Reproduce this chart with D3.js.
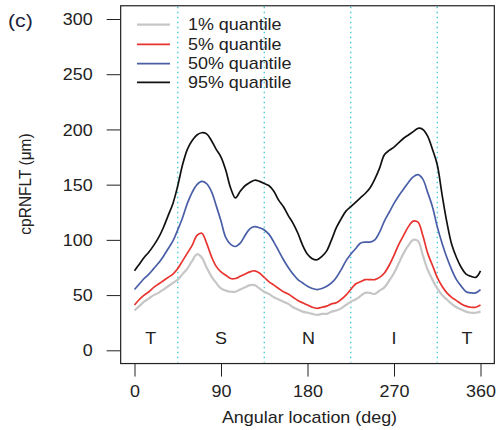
<!DOCTYPE html>
<html><head><meta charset="utf-8">
<script src="https://cdn.jsdelivr.net/npm/d3@7"></script>
<style>html,body{margin:0;padding:0;background:#fff;}svg{display:block;}</style>
</head><body>
<svg id="chart" width="499" height="430"></svg>
<script>
const angles = d3.range(0, 361, 5);
const q95 = [72,78,84,89,95,102,111,122,133,149,168,182,190,195,197,196,190,182,175,163,147,138,144,149,152,154,153,151,149,144,136,130,122,115,106,95,87,83,82,85,90,100,111,119,126,130,134,138,142,147,155,165,177,181,184,188,192,195,198,201,200,194,182,168,141,116,96,84,75,69,67,66,72];
const q50 = [55,60,65,69,74,79,85,92,99,109,120,133,143,150,153,151,144,131,117,102,96,94,97,104,110,112,111,109,105,98,90,82,75,69,64,61,58,56,55,56,58,61,66,73,81,87,92,97,98,98,100,107,117,125,133,140,146,152,157,159,155,143,130,112,97,84,73,64,58,53,52,52,55];
const q05 = [41,46,50,53,57,60,63,66,69,74,81,88,95,104,106,97,85,76,71,68,65,65,67,69,71,72,70,66,62,59,56,53,51,48,45,43,41,39,38,39,40,42,43,46,50,55,60,62,64,64,64,66,70,77,86,96,104,112,117,116,104,88,77,66,58,52,48,45,42,40,39,39,41];
const q01 = [36,40,44,47,50,52,55,58,61,64,69,74,81,87,84,75,67,61,56,54,53,53,55,57,59,59,56,53,51,48,46,44,42,39,37,35,34,33,32,33,33,35,36,38,41,44,46,49,52,52,51,54,57,63,70,79,88,95,100,99,86,73,64,56,50,46,42,39,37,35,34,34,35];
const seriesNames = ["1% quantile","5% quantile","50% quantile","95% quantile"];
const seriesColors = ["#c6c6c6","#e8332e","#4a5ea8","#111111"];
const seriesWidths = [2.2,1.7,1.7,1.7];
const xTicks = [0,90,180,270,360];
const yTicks = [0,50,100,150,200,250,300];
const sectorBounds = [45,135,225,315];
const regionLabels = ["T","S","N","I","T"];
const regionPos = [17,90,181,270,346];

const svg = d3.select("#chart");
const SX = 1.12;
const FONT = "'Liberation Sans', Arial, sans-serif";
const x = d3.scaleLinear().domain([0,360]).range([134.5,480.5]);
const y = d3.scaleLinear().domain([0,300]).range([350.3,19]);
const x0 = x(-14.4), x1 = x(374.4), y0 = y(-12), y1 = y(312);

// sector boundaries
svg.append("g").selectAll("line").data(sectorBounds).join("line")
  .attr("x1", d=>x(d)).attr("x2", d=>x(d)).attr("y1", y1+1).attr("y2", y0-1)
  .attr("stroke","#3cc6d2").attr("stroke-width",1.3).attr("stroke-dasharray","1.4,3.6");

// curves
const all = [q01,q05,q50,q95];
const line = d3.line().x((d,i)=>x(angles[i])).y(d=>y(d)).curve(d3.curveCatmullRom);
svg.append("g").selectAll("path").data(all).join("path")
  .attr("d", d=>line(d)).attr("fill","none")
  .attr("stroke",(d,i)=>seriesColors[i]).attr("stroke-width",(d,i)=>seriesWidths[i])
  .attr("stroke-linejoin","round");

// region labels
svg.append("g").selectAll("text").data(regionLabels).join("text")
  .attr("transform",(d,i)=>`translate(${x(regionPos[i])},344.3) scale(${SX},1)`)
  .attr("text-anchor","middle").attr("font-family",FONT).attr("font-size",16).attr("fill","#222")
  .text(d=>d);

// box
svg.append("rect").attr("x",x0).attr("y",y1).attr("width",x1-x0).attr("height",y0-y1)
  .attr("fill","none").attr("stroke","#222").attr("stroke-width",1.2);

// axes
const ya = svg.append("g").attr("transform",`translate(${x0},0)`)
  .call(d3.axisLeft(y).tickValues(yTicks).tickSize(14).tickPadding(14).tickSizeOuter(0));
ya.select(".domain").remove();
ya.selectAll("line").attr("stroke","#222");
ya.selectAll("text").attr("font-family",FONT).attr("font-size",16).attr("fill","#222")
  .attr("x",0).attr("dy",null).attr("transform",`translate(-28,5.6) scale(${SX},1)`);

const xa = svg.append("g").attr("transform",`translate(0,${y0})`)
  .call(d3.axisBottom(x).tickValues(xTicks).tickSize(13).tickPadding(9).tickSizeOuter(0));
xa.select(".domain").remove();
xa.selectAll("line").attr("stroke","#222");
xa.selectAll("text").attr("font-family",FONT).attr("font-size",16).attr("fill","#222")
  .attr("y",0).attr("dy",null).attr("transform",`translate(0,${396.7-y0}) scale(${SX},1)`);

// axis titles
svg.append("text").attr("transform",`translate(309.5,423.3) scale(${SX},1)`)
  .attr("text-anchor","middle").attr("font-family",FONT).attr("font-size",16).attr("fill","#222")
  .text("Angular location (deg)");
svg.append("text").attr("transform",`translate(30.5,184) scale(${SX},1) rotate(-90)`)
  .attr("text-anchor","middle").attr("font-family",FONT).attr("font-size",15.5).attr("fill","#222")
  .text("cpRNFLT (μm)");
svg.append("text").attr("transform",`translate(8,26.5) scale(${SX},1)`)
  .attr("font-family",FONT).attr("font-size",19).attr("fill","#1a1f3a")
  .text("(c)");

// legend
const legY = [24.7,44.3,63.7,82.3];
const leg = svg.append("g").selectAll("g").data(seriesNames).join("g")
  .attr("transform",(d,i)=>`translate(0,${legY[i]})`);
leg.append("line").attr("x1",137).attr("x2",170).attr("y1",0).attr("y2",0)
  .attr("stroke",(d,i)=>seriesColors[i]).attr("stroke-width",(d,i)=>seriesWidths[i]);
leg.append("text").attr("transform",`translate(188,5.7) scale(${SX},1)`)
  .attr("font-family",FONT).attr("font-size",16).attr("fill","#222").text(d=>d);
</script>
</body></html>
